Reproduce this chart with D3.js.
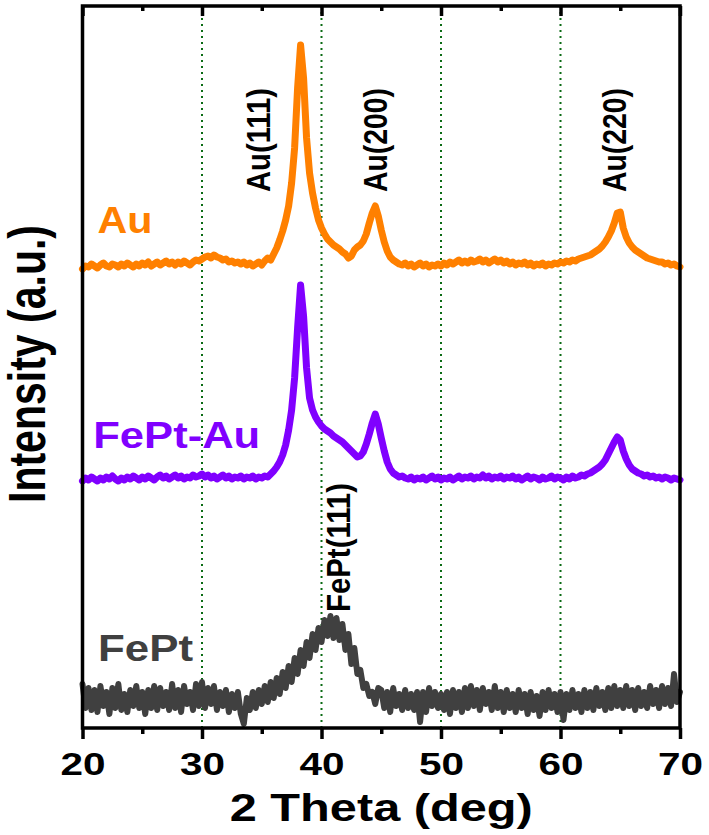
<!DOCTYPE html>
<html>
<head>
<meta charset="utf-8">
<script src="https://cdn.jsdelivr.net/npm/d3@7"></script>
<style>
  body { margin: 0; background: #fff; }
  svg { display: block; font-family: "Liberation Sans", Arial, sans-serif; }
</style>
</head>
<body>
<div class="chart"></div>
<script>
// 2 theta grid starts at 20 deg, one reading every 0.25 deg
var thetaStart = 20;
var thetaStep = 0.25;

// stacked intensities (a.u.)
var auIntensity = [
  459, 462, 461, 464, 462, 460, 463, 465, 462, 461, 464, 463, 461, 464, 462, 465, 463, 461, 464, 462,
  465, 463, 466, 462, 464, 466, 463, 465, 467, 464, 466, 463, 466, 464, 467, 465, 463, 466, 468, 467,
  469, 471, 472, 470, 473, 471, 470, 468, 469, 466, 467, 465, 466, 464, 466, 463, 465, 462, 464, 466,
  463, 467, 470, 468, 474, 480, 488, 497, 508, 522, 545, 580, 640, 683, 650, 590, 555, 535, 520, 508,
  500, 494, 489, 486, 483, 481, 479, 476, 474, 470, 472, 478, 481, 483, 487, 494, 505, 515, 522, 512,
  498, 486, 477, 471, 468, 466, 464, 463, 465, 462, 464, 461, 463, 465, 462, 464, 461, 463, 462, 464,
  462, 465, 463, 466, 464, 466, 468, 465, 467, 465, 468, 466, 467, 469, 466, 468, 465, 467, 469, 466,
  468, 465, 467, 464, 466, 463, 465, 464, 466, 463, 465, 462, 464, 463, 465, 462, 464, 463, 465, 464,
  466, 465, 467, 466, 468, 467, 469, 470, 471, 472, 473, 475, 477, 479, 482, 486, 491, 497, 505, 515,
  516, 500, 491, 485, 481, 478, 476, 474, 472, 470, 469, 468, 467, 466, 466, 464, 465, 463, 464, 462,
  461
];

var feptAuIntensity = [
  247, 250, 248, 251, 249, 247, 250, 248, 251, 249, 252, 249, 247, 250, 248, 251, 249, 252, 250, 248,
  251, 249, 252, 250, 248, 251, 253, 250, 252, 249, 251, 253, 250, 252, 249, 251, 250, 253, 251, 252,
  254, 251, 253, 250, 252, 249, 251, 253, 250, 252, 249, 251, 250, 252, 249, 251, 250, 252, 249, 251,
  250, 252, 251, 254, 257, 261, 266, 273, 283, 298, 318, 350, 400, 443, 412, 360, 330, 318, 311, 306,
  302, 299, 297, 295, 292, 290, 288, 286, 283, 280, 277, 274, 271, 272, 276, 284, 294, 305, 314, 304,
  290, 277, 266, 259, 255, 253, 251, 252, 250, 249, 251, 248, 250, 249, 251, 248, 250, 252, 249, 251,
  248, 250, 249, 251, 248, 250, 252, 249, 251, 250, 252, 249, 251, 250, 253, 250, 252, 249, 251, 250,
  252, 249, 251, 250, 252, 249, 251, 248, 250, 252, 249, 251, 250, 248, 251, 249, 250, 252, 249, 251,
  250, 248, 251, 249, 252, 250, 251, 253, 252, 254, 255, 257, 259, 261, 264, 268, 274, 280, 286, 291,
  288, 277, 269, 263, 259, 257, 255, 254, 252, 253, 251, 252, 250, 251, 249, 251, 250, 248, 250, 249,
  248
];

var feptIntensity = [
  44, 20, 40, 18, 38, 16, 42, 22, 36, 14, 40, 20, 44, 18, 34, 16, 38, 22, 42, 20,
  36, 14, 38, 20, 42, 18, 40, 22, 36, 18, 44, 20, 38, 16, 42, 24, 36, 18, 44, 22,
  46, 20, 40, 24, 42, 18, 36, 22, 38, 16, 34, 20, 36, 14, 4, 30, 18, 36, 20, 38,
  24, 42, 26, 46, 30, 50, 34, 56, 40, 62, 46, 70, 54, 78, 62, 86, 70, 94, 78, 100,
  86, 108, 92, 112, 90, 110, 88, 104, 78, 94, 64, 80, 54, 58, 40, 44, 32, 36, 24, 40,
  38, 20, 36, 16, 40, 22, 34, 18, 38, 20, 34, 18, 36, 6, 36, 16, 40, 22, 36, 20,
  34, 18, 36, 14, 38, 20, 36, 16, 40, 20, 42, 22, 38, 18, 40, 24, 36, 18, 42, 20,
  36, 16, 38, 20, 34, 16, 38, 20, 34, 14, 36, 18, 32, 12, 36, 18, 38, 20, 34, 16,
  36, 8, 34, 18, 38, 20, 34, 16, 38, 20, 36, 18, 40, 22, 36, 18, 40, 20, 42, 22,
  38, 20, 42, 22, 38, 18, 40, 22, 36, 20, 42, 24, 38, 20, 42, 24, 40, 22, 54, 26,
  36
];

var seriesNames = ["Au", "FePt-Au", "FePt"];
var seriesColors = ["#ff8000", "#8000ff", "#404040"];

// sample name labels (theta, intensity of baseline)
var nameTheta = [21.25, 20.9, 21.3];
var nameValue = [495, 280, 67];

// reflection labels
var peakNames = ["Au(111)", "Au(200)", "Au(220)", "FePt(111)"];
var peakTheta = [35.69, 45.48, 65.45, 42.4];
var peakValue = [536, 536, 536, 116];

var majorTicks = [20, 30, 40, 50, 60, 70];
var minorTicks = [25, 35, 45, 55, 65];
var gridTicks = [30, 40, 50, 60];

var margin = {top: 6, left: 82.5};
var width = 597.5;
var height = 722;

var x = d3.scaleLinear().domain([20, 70]).range([0, width]);
var y = d3.scaleLinear().domain([0, 722]).range([height, 0]);

var svg = d3.select(".chart").append("svg")
    .attr("width", 709)
    .attr("height", 835);

var g = svg.append("g")
    .attr("transform", `translate(${margin.left}, ${margin.top})`);

// dotted guide lines
g.selectAll(".grid")
  .data(gridTicks)
  .enter().append("line")
    .attr("class", "grid")
    .attr("x1", d => x(d)).attr("x2", d => x(d))
    .attr("y1", 0).attr("y2", height)
    .attr("stroke", "#0b6b14")
    .attr("stroke-width", 2)
    .attr("stroke-dasharray", "2,4");

var line = d3.line()
  .x((d, i) => x(thetaStart + i * thetaStep))
  .y(d => y(d));

var series = [auIntensity, feptAuIntensity, feptIntensity];

g.selectAll(".trace")
  .data(series)
  .enter().append("path")
    .attr("class", "trace")
    .attr("d", d => line(d))
    .attr("fill", "none")
    .attr("stroke", (d, i) => seriesColors[i])
    .attr("stroke-width", (d, i) => i === 2 ? 6 : 7)
    .attr("stroke-linejoin", "round")
    .attr("stroke-linecap", "round");

// sample names
var nameWidths = [55, 167, 95];
g.selectAll(".name")
  .data(seriesNames)
  .enter().append("text")
    .attr("class", "name")
    .attr("x", (d, i) => x(nameTheta[i]))
    .attr("y", (d, i) => y(nameValue[i]))
    .attr("font-size", 36)
    .attr("font-weight", "bold")
    .attr("textLength", (d, i) => nameWidths[i])
    .attr("lengthAdjust", "spacingAndGlyphs")
    .attr("fill", (d, i) => seriesColors[i])
    .text(d => d);

// reflection labels, rotated
g.selectAll(".peak")
  .data(peakNames)
  .enter().append("text")
    .attr("class", "peak")
    .attr("transform", (d, i) => `translate(${x(peakTheta[i])}, ${y(peakValue[i])}) scale(1.12, 1) rotate(-90)`)
    .attr("font-size", 29)
    .attr("font-weight", "bold")
    .attr("textLength", (d, i) => i === 3 ? 129 : 104)
    .attr("lengthAdjust", "spacingAndGlyphs")
    .attr("fill", "#000")
    .text(d => d);

// frame
g.append("rect")
  .attr("width", width)
  .attr("height", height)
  .attr("fill", "none")
  .attr("stroke", "#000")
  .attr("stroke-width", 3.5);

// bottom axis
var gX = g.append("g")
  .attr("transform", `translate(0, ${height})`)
  .call(d3.axisBottom(x).tickValues(majorTicks).tickSize(11).tickFormat(d3.format("d")));
gX.select(".domain").remove();
gX.selectAll(".tick line").attr("stroke-width", 3.5);
gX.selectAll(".tick text")
  .attr("y", 47)
  .attr("dy", 0)
  .attr("font-size", 32)
  .attr("font-weight", "bold")
  .attr("font-family", "Liberation Sans, Arial, sans-serif")
  .attr("fill", "#000")
  .attr("textLength", 45)
  .attr("lengthAdjust", "spacingAndGlyphs");

var gXm = g.append("g")
  .attr("transform", `translate(0, ${height})`)
  .call(d3.axisBottom(x).tickValues(minorTicks).tickSize(6).tickFormat(""));
gXm.select(".domain").remove();
gXm.selectAll(".tick line").attr("stroke-width", 3.5);

// top axis, ticks pointing in
var gT = g.append("g")
  .call(d3.axisBottom(x).tickValues(majorTicks).tickSize(10).tickFormat(""));
gT.select(".domain").remove();
gT.selectAll(".tick line").attr("stroke-width", 3.5);
var gTm = g.append("g")
  .call(d3.axisBottom(x).tickValues(minorTicks).tickSize(5).tickFormat(""));
gTm.select(".domain").remove();
gTm.selectAll(".tick line").attr("stroke-width", 3.5);

// axis titles
svg.append("text")
  .attr("x", margin.left + width / 2)
  .attr("y", 821)
  .attr("text-anchor", "middle")
  .attr("font-size", 38)
  .attr("font-weight", "bold")
  .attr("textLength", 303)
  .attr("lengthAdjust", "spacingAndGlyphs")
  .text("2 Theta (deg)");

svg.append("text")
  .attr("transform", "translate(45, 364) scale(1.25, 1) rotate(-90)")
  .attr("text-anchor", "middle")
  .attr("font-size", 41)
  .attr("font-weight", "bold")
  .attr("textLength", 278)
  .attr("lengthAdjust", "spacingAndGlyphs")
  .text("Intensity (a.u.)");
</script>
</body>
</html>
